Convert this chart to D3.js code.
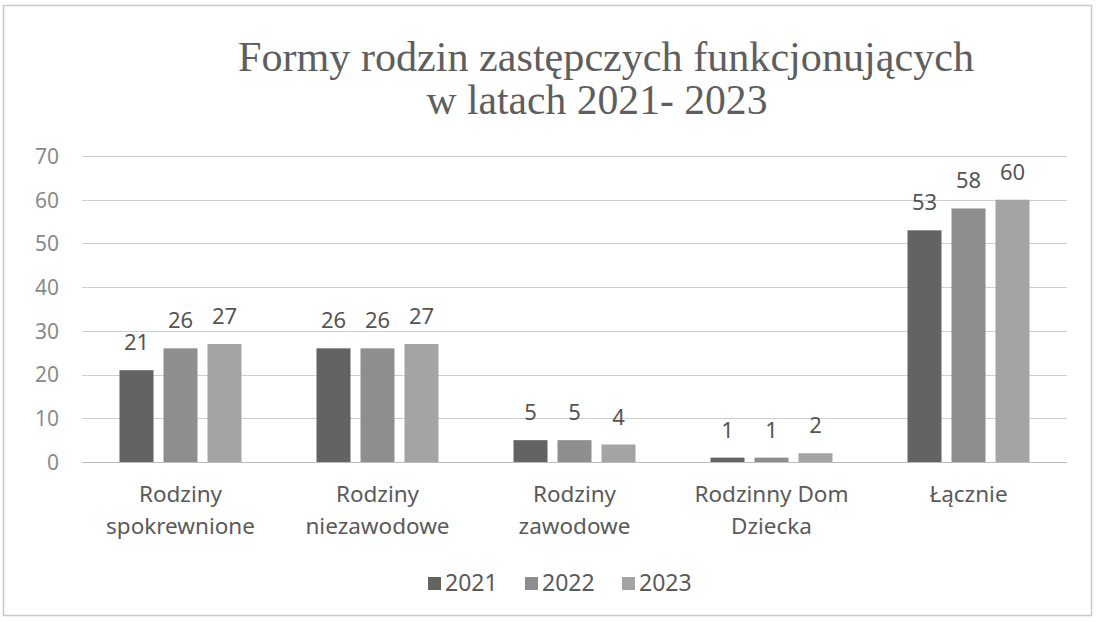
<!DOCTYPE html>
<html><head><meta charset="utf-8">
<script src="https://cdn.jsdelivr.net/npm/d3@7"></script>
<style>html,body{margin:0;padding:0;background:#fff;}svg{display:block;}</style>
</head><body>
<script>
const categories = ["Rodziny spokrewnione", "Rodziny niezawodowe", "Rodziny zawodowe", "Rodzinny Dom Dziecka", "Łącznie"];
const categoryLines = [["Rodziny", "spokrewnione"], ["Rodziny", "niezawodowe"], ["Rodziny", "zawodowe"], ["Rodzinny Dom", "Dziecka"], ["Łącznie"]];
const years = ["2021", "2022", "2023"];
const values2021 = [21, 26, 5, 1, 53];
const values2022 = [26, 26, 5, 1, 58];
const values2023 = [27, 27, 4, 2, 60];
const yTicks = [0, 10, 20, 30, 40, 50, 60, 70];
const titleLines = ["Formy rodzin zastępczych funkcjonujących", "w latach 2021- 2023"];

const seriesValues = [values2021, values2022, values2023];
const colors = ["#636363", "#8e8e8e", "#a4a4a4"];

const W = 1104, H = 622;
const svg = d3.select("body").append("svg").attr("width", W).attr("height", H);

// outer frame
svg.append("rect").attr("x", 3.5).attr("y", 5.5).attr("width", 1088).attr("height", 610)
  .attr("fill", "none").attr("stroke", "#c8c8c8").attr("stroke-width", 1.5);

// title
const title = svg.append("g");
title.append("text").attr("x", 606).attr("y", 71).attr("text-anchor", "middle")
  .attr("font-family", "Liberation Serif, serif").attr("font-size", 43).attr("fill", "#5e5e5e")
  .attr("textLength", 736).attr("lengthAdjust", "spacingAndGlyphs").text(titleLines[0]);
title.append("text").attr("x", 597).attr("y", 114).attr("text-anchor", "middle")
  .attr("font-family", "Liberation Serif, serif").attr("font-size", 43).attr("fill", "#5e5e5e")
  .attr("textLength", 341).attr("lengthAdjust", "spacingAndGlyphs").text(titleLines[1]);

const y = d3.scaleLinear().domain([0, 70]).range([462, 156]);
const x0 = d3.scaleBand().domain(categories).range([82, 1067]).paddingInner(0).paddingOuter(0);
const groupW = 122;
const x1 = d3.scaleBand().domain(years).range([0, groupW]).paddingInner(0.227).paddingOuter(0);

// gridlines
svg.append("g").selectAll("line").data(yTicks).join("line")
  .attr("x1", 82).attr("x2", 1067)
  .attr("y1", d => Math.round(y(d)) + 0.5).attr("y2", d => Math.round(y(d)) + 0.5)
  .attr("stroke", d => d === 0 ? "#bdbdbd" : "#cfcfcf").attr("stroke-width", 1.2);

// y axis labels
const yAxis = d3.axisLeft(y).tickValues(yTicks).tickSize(0).tickPadding(0);
const ga = svg.append("g").attr("transform", "translate(59,0)").call(yAxis);
ga.select(".domain").remove();
ga.selectAll("text").attr("font-family", "Noto Sans, sans-serif").attr("font-size", 21)
  .attr("fill", "#8a8a8a").attr("dy", "0.35em");

// bars
const groups = svg.append("g").selectAll("g").data(categories).join("g")
  .attr("transform", d => `translate(${x0(d) + (x0.bandwidth() - groupW) / 2},0)`);

groups.each(function(cat, ci) {
  const g = d3.select(this);
  years.forEach((yr, si) => {
    const v = seriesValues[si][ci];
    g.append("rect").attr("x", x1(yr)).attr("width", x1.bandwidth())
      .attr("y", y(v)).attr("height", y(0) - y(v)).attr("fill", colors[si]);
    g.append("text").attr("x", x1(yr) + x1.bandwidth() / 2).attr("y", y(v) - 20)
      .attr("text-anchor", "middle").attr("font-family", "Noto Sans, sans-serif")
      .attr("font-size", 22).attr("fill", "#555").text(v);
  });
});

// category labels
const cl = svg.append("g").selectAll("text").data(categories).join("text")
  .attr("x", d => x0(d) + x0.bandwidth() / 2).attr("y", 502)
  .attr("text-anchor", "middle").attr("font-family", "Noto Sans, sans-serif")
  .attr("font-size", 22.5).attr("fill", "#5a5a5a");
cl.each(function(d, i) {
  const t = d3.select(this);
  categoryLines[i].forEach((ln, k) => {
    t.append("tspan").attr("x", x0(d) + x0.bandwidth() / 2).attr("dy", k === 0 ? 0 : 32).text(ln);
  });
});

// legend
const legendX = [428, 525, 622];
const lg = svg.append("g").selectAll("g").data(years).join("g")
  .attr("transform", (d, i) => `translate(${legendX[i]},0)`);
lg.append("rect").attr("x", 0).attr("y", 577).attr("width", 13).attr("height", 13)
  .attr("fill", (d, i) => colors[i]);
lg.append("text").attr("x", 17).attr("y", 591).attr("font-family", "Noto Sans, sans-serif")
  .attr("font-size", 23).attr("fill", "#5a5a5a").text(d => d);
</script>
</body></html>
